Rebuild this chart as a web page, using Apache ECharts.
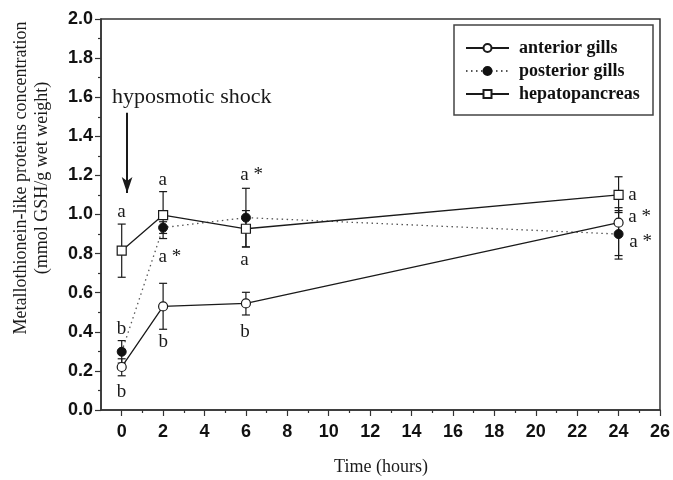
<!DOCTYPE html>
<html><head><meta charset="utf-8">
<script src="https://cdn.jsdelivr.net/npm/echarts@6/dist/echarts.min.js"></script>
<style>html,body{margin:0;padding:0;background:#fff}#c{width:673px;height:480px}</style>
</head><body><div id="c"></div>
<script>
// ---- data ----
const times = [0, 2, 6, 24];
const anteriorMean = [0.22, 0.53, 0.545, 0.958];
const anteriorLo   = [0.175, 0.413, 0.486, 0.79];
const anteriorHi   = [0.262, 0.648, 0.602, 1.035];
const posteriorMean = [0.298, 0.933, 0.984, 0.90];
const posteriorLo   = [0.24, 0.903, 0.834, 0.772];
const posteriorHi   = [0.355, 0.963, 1.134, 1.02];
const hepatoMean = [0.815, 0.997, 0.927, 1.10];
const hepatoLo   = [0.679, 0.877, 0.834, 1.01];
const hepatoHi   = [0.951, 1.117, 1.02, 1.193];
const xTicks = [0,2,4,6,8,10,12,14,16,18,20,22,24,26];
const xMinorTicks = [1,3,5,7,9,11,13,15,17,19,21,23,25];
// significance letters: [x (left edge), y, text]
const letters = [
  [-0.22, 1.014, 'a'], [-0.24, 0.413, 'b'], [-0.24, 0.094, 'b'],
  [1.78, 1.177, 'a'], [1.78, 0.784, 'a *'], [1.78, 0.35, 'b'],
  [5.73, 1.202, 'a *'], [5.73, 0.767, 'a'], [5.73, 0.40, 'b'],
  [24.47, 1.10, 'a'], [24.47, 0.986, 'a *'], [24.52, 0.861, 'a *']
];
const shockNote = [[-0.47, 1.60, 'hyposmotic shock']];
const shockArrow = [[0.26, 1.52], [0.26, 1.11]];

const SERIF = '"Liberation Serif", "Times New Roman", serif';
const SANS = '"Liberation Sans", Arial, sans-serif';
const INK = '#1a1a1a';

function errRender(params, api) {
  const x = api.value(0), lo = api.value(1), hi = api.value(2);
  const a = api.coord([x, lo]), b = api.coord([x, hi]);
  const w = 4;
  const st = {stroke: INK, lineWidth: 1.2};
  return {type: 'group', children: [
    {type: 'line', shape: {x1: a[0], y1: a[1], x2: b[0], y2: b[1]}, style: st},
    {type: 'line', shape: {x1: a[0]-w, y1: a[1], x2: a[0]+w, y2: a[1]}, style: st},
    {type: 'line', shape: {x1: b[0]-w, y1: b[1], x2: b[0]+w, y2: b[1]}, style: st}
  ]};
}
function errSeries(lo, hi) {
  return {type: 'custom', renderItem: errRender, silent: true, z: 1,
    encode: {x: 0, y: [1, 2]},
    data: times.map((t, i) => [t, lo[i], hi[i]])};
}
const pts = m => times.map((t, i) => [t, m[i]]);

const chart = echarts.init(document.getElementById('c'), null, {renderer: 'canvas'});
chart.setOption({
  animation: false,
  backgroundColor: '#fff',
  grid: {left: 101, right: 12, top: 19, bottom: 70, show: true, borderColor: '#333', borderWidth: 1.5},
  xAxis: [{
    type: 'value', min: -1, max: 26,
    axisLine: {onZero: false, lineStyle: {color: '#333', width: 1.5}},
    axisTick: {customValues: xTicks, length: 6, lineStyle: {color: '#333', width: 1.2}},
    axisLabel: {customValues: xTicks, margin: 13, fontFamily: SANS, fontWeight: 'bold', fontSize: 18, color: '#111'},
    splitLine: {show: false}
  }, {
    type: 'value', min: -1, max: 26, position: 'bottom',
    axisLine: {show: false, onZero: false},
    axisTick: {customValues: xMinorTicks, length: 3, lineStyle: {color: '#333', width: 1.2}},
    axisLabel: {show: false},
    splitLine: {show: false}
  }],
  yAxis: {
    type: 'value', min: 0, max: 2, interval: 0.2,
    axisLine: {show: true, onZero: false, lineStyle: {color: '#333', width: 1.5}},
    axisTick: {show: true, length: 6, lineStyle: {color: '#333', width: 1.2}},
    minorTick: {show: true, splitNumber: 2, length: 3, lineStyle: {color: '#333', width: 1.2}},
    axisLabel: {formatter: v => v.toFixed(1), margin: 8, fontFamily: SANS, fontWeight: 'bold', fontSize: 18, color: '#111'},
    splitLine: {show: false}
  },
  legend: {
    orient: 'vertical', left: 465, top: 39, padding: 0,
    itemWidth: 43, itemHeight: 10, itemGap: 5,
    data: ['anterior gills', 'posterior gills', 'hepatopancreas'],
    textStyle: {fontFamily: SERIF, fontWeight: 'bold', fontSize: 18, color: '#111', padding: [0, 0, 0, 5]}
  },
  series: [
    errSeries(anteriorLo, anteriorHi),
    errSeries(posteriorLo, posteriorHi),
    errSeries(hepatoLo, hepatoHi),
    {name: 'anterior gills', type: 'line', data: pts(anteriorMean), z: 3,
     symbol: 'circle', symbolSize: 9,
     itemStyle: {color: '#fff', borderColor: INK, borderWidth: 1.2},
     lineStyle: {color: INK, width: 1.3}},
    {name: 'posterior gills', type: 'line', data: pts(posteriorMean), z: 2,
     symbol: 'circle', symbolSize: 9,
     itemStyle: {color: '#111', borderColor: '#111', borderWidth: 1},
     lineStyle: {color: '#555', width: 1.3, type: [1.5, 3.5]}},
    {name: 'hepatopancreas', type: 'line', data: pts(hepatoMean), z: 3,
     symbol: 'rect', symbolSize: 9,
     itemStyle: {color: '#fff', borderColor: INK, borderWidth: 1.2},
     lineStyle: {color: INK, width: 1.3}},
    {type: 'scatter', data: letters, symbolSize: 0, silent: true, z: 5,
     itemStyle: {opacity: 1},
     label: {show: true, position: 'right', distance: 0, formatter: p => p.value[2],
             fontFamily: SERIF, fontSize: 19, color: INK}},
    {type: 'scatter', data: shockNote, symbolSize: 0, silent: true, z: 5,
     itemStyle: {opacity: 1},
     label: {show: true, position: 'right', distance: 0, formatter: p => p.value[2],
             fontFamily: SERIF, fontSize: 22, color: INK},
     markLine: {silent: true, symbol: ['none', 'arrow'], symbolSize: [8, 16],
       lineStyle: {color: INK, width: 2, type: 'solid'}, label: {show: false},
       data: [[{coord: shockArrow[0]}, {coord: shockArrow[1]}]]}}
  ],
  graphic: [
    {type: 'rect', shape: {x: 454, y: 25, width: 199, height: 90},
     style: {fill: 'none', stroke: '#444', lineWidth: 1.5}},
    {type: 'text', x: 21, y: 178, rotation: Math.PI / 2,
     style: {text: 'Metallothionein-like proteins concentration', font: '18px ' + SERIF, fill: INK, align: 'center', verticalAlign: 'middle'}},
    {type: 'text', x: 42, y: 178, rotation: Math.PI / 2,
     style: {text: '(mmol GSH/g wet weight)', font: '18px ' + SERIF, fill: INK, align: 'center', verticalAlign: 'middle'}},
    {type: 'text', x: 381, y: 467,
     style: {text: 'Time (hours)', font: '18px ' + SERIF, fill: INK, align: 'center', verticalAlign: 'middle'}}
  ]
});
</script></body></html>
